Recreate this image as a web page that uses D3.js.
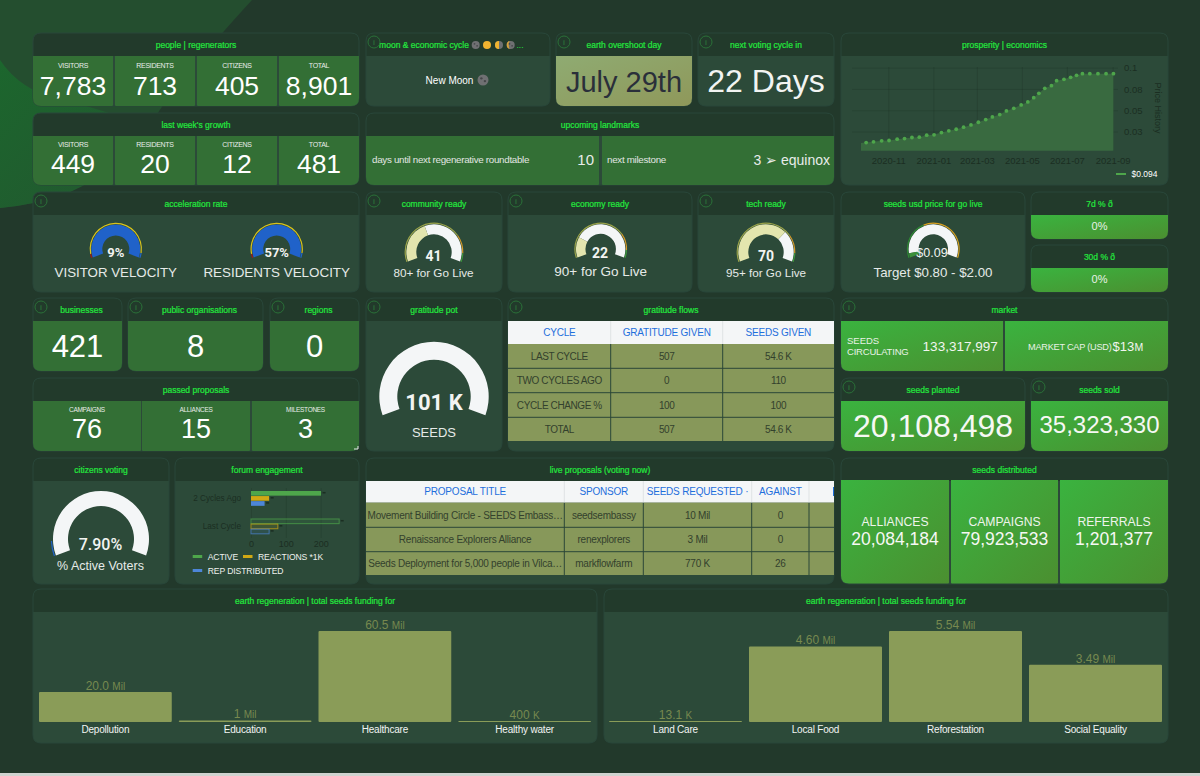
<!DOCTYPE html>
<html>
<head>
<meta charset="utf-8">
<title>Regen dashboard</title>
<script src="https://d3js.org/d3.v7.min.js"></script>
<style>
  html, body { margin: 0; padding: 0; background: #22392b; overflow: hidden; }
  svg { display: block; }
  text { font-family: "Liberation Sans", Arial, sans-serif; }
</style>
</head>
<body>
<div id="chart"></div>
<script>
// ---- values ----
var peopleLabels = ["VISITORS", "RESIDENTS", "CITIZENS", "TOTAL"];
var peopleValues = ["7,783", "713", "405", "8,901"];
var growthValues = ["449", "20", "12", "481"];
var passedLabels = ["CAMPAIGNS", "ALLIANCES", "MILESTONES"];
var passedValues = ["76", "15", "3"];
var distLabels = ["ALLIANCES", "CAMPAIGNS", "REFERRALS"];
var distValues = ["20,084,184", "79,923,533", "1,201,377"];

var priceDates = ["2020-09-25","2020-10-02","2020-10-12","2020-10-23","2020-11-02","2020-11-13","2020-11-23","2020-12-03","2020-12-13","2020-12-23",
  "2021-01-02","2021-01-12","2021-01-22","2021-02-01","2021-02-11","2021-02-21","2021-03-03","2021-03-13","2021-03-22","2021-04-01",
  "2021-04-10","2021-04-20","2021-04-30","2021-05-09","2021-05-17","2021-05-24","2021-06-01","2021-06-10","2021-06-17","2021-06-27",
  "2021-07-06","2021-07-14","2021-07-22","2021-08-01","2021-08-12","2021-08-23","2021-09-02"];
var priceValues = [0.0115,0.0121,0.0129,0.0141,0.0145,0.016,0.0168,0.018,0.0184,0.0207,
  0.0211,0.0238,0.0258,0.0277,0.0301,0.0328,0.0359,0.0391,0.0422,0.0449,
  0.0492,0.0523,0.0563,0.0598,0.0648,0.0699,0.0758,0.0789,0.0848,0.0863,
  0.0887,0.091,0.093,0.093,0.093,0.093,0.093];
var priceTicks = [0.025, 0.05, 0.075, 0.1];
var priceTickLabels = ["0.03", "0.05", "0.08", "0.1"];
var priceDateTicks = ["2020-11-01","2021-01-01","2021-03-01","2021-05-01","2021-07-01","2021-09-01"];

var forumCycles = ["2 Cycles Ago", "Last Cycle"];
var forumSeries = ["ACTIVE", "REACTIONS *1K", "REP DISTRIBUTED"];
var forumActive = [201, 253];
var forumReactions = [52, 77];
var forumRep = [39, 52];
var forumTicks = [0, 100, 200];

var flowHeaders = ["CYCLE", "GRATITUDE GIVEN", "SEEDS GIVEN"];
var flowCycles = ["LAST CYCLE", "TWO CYCLES AGO", "CYCLE CHANGE %", "TOTAL"];
var flowGratitude = ["507", "0", "100", "507"];
var flowSeeds = ["54.6 K", "110", "100", "54.6 K"];

var liveHeaders = ["PROPOSAL TITLE", "SPONSOR", "SEEDS REQUESTED ·", "AGAINST"];
var liveTitles = ["Movement Building Circle - SEEDS Embass…", "Renaissance Explorers Alliance", "Seeds Deployment for 5,000 people in Vilca…"];
var liveSponsors = ["seedsembassy", "renexplorers", "markflowfarm"];
var liveRequested = ["10 Mil", "3 Mil", "770 K"];
var liveAgainst = ["0", "0", "26"];

var regenCatsA = ["Depollution", "Education", "Healthcare", "Healthy water"];
var regenValsA = [20.0, 1, 60.5, 0.4];
var regenNumA = ["20.0", "1", "60.5", "400"];
var regenUnitA = ["Mil", "Mil", "Mil", "K"];
var regenCatsB = ["Land Care", "Local Food", "Reforestation", "Social Equality"];
var regenValsB = [0.0131, 4.60, 5.54, 3.49];
var regenNumB = ["13.1", "4.60", "5.54", "3.49"];
var regenUnitB = ["K", "Mil", "Mil", "Mil"];

// ---- colours ----
var titleGreen = "#22e83e", bodyCol = "#2c4a39", headCol = "#223a2b", cellCol = "#336f35",
    olive = "#87985a", white = "#f4f6f7", blueText = "#1f6fdc", darkText = "#1b2e22", softWhite = "#e8ecea";

var svg = d3.select("#chart").append("svg").attr("width", 1200).attr("height", 776);
var defs = svg.append("defs");

function gradient(id, c1, c2) {
  var g = defs.append("linearGradient").attr("id", id)
    .attr("x1", 0).attr("y1", 0).attr("x2", 1).attr("y2", 1);
  g.append("stop").attr("offset", "0%").attr("stop-color", c1);
  g.append("stop").attr("offset", "100%").attr("stop-color", c2);
}
gradient("greenGrad", "#3ab33f", "#4b8f30");
gradient("oliveGrad", "#8fab72", "#8f985a");
gradient("swoosh2", "#1c662d", "#235630");

// background
svg.append("rect").attr("width", 1200).attr("height", 776).attr("fill", "#22392b");
svg.append("path").attr("d", "M0,0 L252,0 Q215,40 170,95 Q125,165 70,192 Q35,205 0,208 Z").attr("fill", "#244e2f");
svg.append("path").attr("d", "M0,60 Q20,90 60,100 Q110,110 150,130 Q110,175 70,192 Q35,205 0,208 Z").attr("fill", "url(#swoosh2)");
svg.append("rect").attr("y", 773).attr("width", 1200).attr("height", 3).attr("fill", "#cfd3cf");

// rounded rect with its own radius per corner
function rr(x, y, w, h, tl, tr, br, bl) {
  return "M" + (x + tl) + "," + y + "H" + (x + w - tr) + "Q" + (x + w) + "," + y + " " + (x + w) + "," + (y + tr) +
    "V" + (y + h - br) + "Q" + (x + w) + "," + (y + h) + " " + (x + w - br) + "," + (y + h) +
    "H" + (x + bl) + "Q" + x + "," + (y + h) + " " + x + "," + (y + h - bl) +
    "V" + (y + tl) + "Q" + x + "," + y + " " + (x + tl) + "," + y + "Z";
}

function txt(x, y, s, size, fill, o) {
  o = o || {};
  return svg.append("text").attr("x", x).attr("y", y).text(s)
    .attr("font-size", size).attr("fill", fill)
    .attr("text-anchor", o.anchor || "middle")
    .attr("font-weight", o.weight || null)
    .style("font-family", o.family || null)
    .style("letter-spacing", o.ls || null);
}

var headH = 23, R = 8;

function panel(x, y, w, h, title, info, titleDx) {
  svg.append("path").attr("d", rr(x, y, w, h, R, R, R, R)).attr("fill", bodyCol);
  svg.append("path").attr("d", rr(x, y, w, headH, R, R, 0, 0)).attr("fill", headCol);
  svg.append("path").attr("d", rr(x, y, w, h, R, R, R, R)).attr("fill", "none").attr("stroke", "#29473a").attr("stroke-width", 1);
  txt(x + w / 2 + (titleDx || 0), y + 15, title, 8.5, titleGreen).attr("stroke", titleGreen).attr("stroke-width", 0.2);
  if (info) {
    svg.append("circle").attr("cx", x + 8).attr("cy", y + 9).attr("r", 6)
      .attr("fill", "none").attr("stroke", "#2a7038").attr("stroke-width", 1);
    txt(x + 8, y + 12, "i", 7, "#2a7038", { weight: "bold" });
  }
}

// a block of cells filling the bottom of a panel
function cell(x, y, w, h, fill, bl, br) {
  svg.append("path").attr("d", rr(x, y, w, h, 0, 0, br ? R : 1, bl ? R : 1)).attr("fill", fill);
}

function statRow(xs, y, h, labels, values, labelY, valueY, size, labelSize) {
  xs.forEach(function(c, i) {
    cell(c[0], y, c[1] - c[0], h, cellCol, i === 0, i === xs.length - 1);
    var mid = (c[0] + c[1]) / 2;
    txt(mid, labelY, labels[i], labelSize, softWhite, { ls: "-0.3px" });
    txt(mid, valueY, values[i], size, "#ffffff");
  });
}

// ---- top left stats ----
var fourCols = [[33, 113], [115, 195], [197, 277], [279, 359]];
panel(33, 33, 326, 73, "people | regenerators");
statRow(fourCols, 56, 50, peopleLabels, peopleValues, 67.5, 94.5, 26.5, 7);
panel(33, 113, 326, 72, "last week's growth");
statRow(fourCols, 136, 49, peopleLabels, growthValues, 147, 172.5, 26.5, 7);

// ---- moon, overshoot, voting ----
function moon(cx, cy, r, kind) {
  svg.append("circle").attr("cx", cx).attr("cy", cy).attr("r", r)
    .attr("fill", kind === "full" ? "#f0b330" : "#6f7072");
  if (kind === "half") {
    svg.append("path").attr("d", "M" + cx + "," + (cy - r) + "A" + r + "," + r + " 0 0 0 " + cx + "," + (cy + r) + "Z").attr("fill", "#f0b330");
  }
  if (kind === "wane") {
    svg.append("path").attr("d", "M" + cx + "," + (cy - r) + "A" + r + "," + r + " 0 0 0 " + cx + "," + (cy + r) + "A" + (r * 0.5) + "," + r + " 0 0 1 " + cx + "," + (cy - r) + "Z").attr("fill", "#d8a23a");
  }
  if (kind === "new" || kind === "wane") {
    svg.append("circle").attr("cx", cx - r * 0.3).attr("cy", cy - r * 0.3).attr("r", r * 0.22).attr("fill", "#46474a");
    svg.append("circle").attr("cx", cx + r * 0.35).attr("cy", cy + r * 0.2).attr("r", r * 0.22).attr("fill", "#46474a");
  }
}
panel(366, 33, 184, 73, "moon & economic cycle", true, -34);
moon(475.7, 45, 4, "new"); moon(487, 45, 4, "full"); moon(499, 45, 4, "half"); moon(510.7, 45, 4, "wane");
txt(520, 48, "...", 8.5, titleGreen, { anchor: "middle" });
txt(449.5, 84, "New Moon", 10, "#ffffff");
moon(483, 80, 5.5, "new");

panel(556, 33, 136, 73, "earth overshoot day", true);
svg.append("path").attr("d", rr(556, 56, 136, 50, 0, 0, R, R)).attr("fill", "url(#oliveGrad)");
txt(624, 92, "July 29th", 29, "#2a2f3a");
panel(698, 33, 136, 73, "next voting cycle in", true);
txt(766, 92, "22 Days", 32, "#f2f4f2");

// ---- landmarks ----
panel(366, 113, 468, 72, "upcoming landmarks");
cell(366, 136, 233, 49, cellCol, true, false);
cell(602, 136, 232, 49, cellCol, false, true);
txt(372, 163, "days until next regenerative roundtable", 9.8, "#e2e6e2", { anchor: "start", ls: "-0.3px" });
txt(594, 165, "10", 15, "#e8ecea", { anchor: "end" });
txt(607, 163, "next milestone", 9.8, "#e2e6e2", { anchor: "start", ls: "-0.3px" });
txt(830, 165, "3 ➢ equinox", 14, "#e8ecea", { anchor: "end" });

// ---- price history ----
panel(841, 33, 327, 152, "prosperity | economics");
var parseDay = d3.utcParse("%Y-%m-%d");
var priceX = d3.scaleUtc().domain([parseDay("2020-11-01"), parseDay("2021-09-01")]).range([888.3, 1112.7]);
var priceY = d3.scaleLinear().domain([0.0025, 0.1]).range([150.7, 67.7]);
var pricePts = priceDates.map(function(d, i) { return { date: parseDay(d), value: priceValues[i] }; });

var xAxisG = svg.append("g").attr("transform", "translate(0,151)")
  .call(d3.axisBottom(priceX).tickValues(priceDateTicks.map(parseDay)).tickFormat(d3.utcFormat("%Y-%m")).tickSize(-84).tickPadding(6));
var yAxisG = svg.append("g").attr("transform", "translate(1118,0)")
  .call(d3.axisRight(priceY).tickValues(priceTicks).tickFormat(function(d, i) { return priceTickLabels[i]; }).tickSize(-266).tickPadding(6));
[xAxisG, yAxisG].forEach(function(g) {
  g.selectAll(".domain").remove();
  g.selectAll("line").attr("stroke", "#1d3024").attr("stroke-opacity", 0.25);
  g.selectAll("text").attr("fill", darkText).attr("font-size", 9.5);
});
svg.append("path").datum(pricePts).attr("fill", "#396a40")
  .attr("d", d3.area().x(function(d) { return priceX(d.date); }).y0(150.7).y1(function(d) { return priceY(d.value); }));
svg.selectAll(".pricedot").data(pricePts.slice(1)).enter().append("circle").attr("class", "pricedot")
  .attr("cx", function(d) { return priceX(d.date); })
  .attr("cy", function(d) { return priceY(d.value); })
  .attr("r", 1.9).attr("fill", "#4ea64b");
txt(0, 0, "Price History", 9, darkText).attr("transform", "translate(1155,108) rotate(90)");
svg.append("line").attr("x1", 1116).attr("x2", 1126).attr("y1", 174).attr("y2", 174).attr("stroke", "#4ea64b").attr("stroke-width", 2);
txt(1131.5, 177, "$0.094", 8.5, "#ffffff", { anchor: "start" });

// ---- gauges ----
var gaugeAngle = d3.scaleLinear().domain([0, 1]).range([-110 * Math.PI / 180, 110 * Math.PI / 180]);
function gauge(cx, cy, r, thick, value, max, fill, rest, ring, ringGap) {
  var g = svg.append("g").attr("transform", "translate(" + cx + "," + cy + ")");
  var frac = Math.min(1, value / max);
  var arc = d3.arc().innerRadius(r - thick).outerRadius(r);
  if (frac < 1) g.append("path").attr("d", arc({ startAngle: gaugeAngle(frac), endAngle: gaugeAngle(1) })).attr("fill", rest);
  g.append("path").attr("d", arc({ startAngle: gaugeAngle(0), endAngle: gaugeAngle(frac) })).attr("fill", fill);
  var ringArc = d3.arc().innerRadius(r + ringGap).outerRadius(r + ringGap + 1.2);
  ring.forEach(function(s) {
    g.append("path").attr("d", ringArc({ startAngle: gaugeAngle(s[0]), endAngle: gaugeAngle(s[1]) })).attr("fill", s[2]);
  });
}

panel(33, 192, 326, 100, "acceleration rate", true);
var velocityRing = [[0, 0.04, "#a01818"], [0.04, 0.95, "#d8c21c"], [0.95, 1, "#2066c8"]];
gauge(115.8, 249, 24.5, 11, 9, 9, "#2062c9", "#f4f6f7", velocityRing, 0.5);
txt(115.8, 257, "9%", 13, "#f2f4f2", { weight: "bold", family: "Roboto" });
txt(115.8, 277, "VISITOR VELOCITY", 13.3, "#e6eae8");
gauge(276.7, 249, 24.5, 11, 57, 57, "#2062c9", "#f4f6f7", velocityRing, 0.5);
txt(276.7, 257, "57%", 13, "#f2f4f2", { weight: "bold", family: "Roboto" });
txt(276.7, 277, "RESIDENTS VELOCITY", 13.4, "#e6eae8");

var readyRing = [[0, 0.75, "#9aa34a"], [0.75, 0.92, "#d59a2a"], [0.92, 1, "#3d9a3d"]];
panel(366, 192, 136, 100, "community ready", true);
gauge(434, 252, 27.7, 10, 41, 100, "#e3e5ae", white, readyRing, 0.5);
txt(433.5, 261, "41", 14, "#f2f4f2", { weight: "bold", family: "Roboto" });
txt(433.5, 277, "80+ for Go Live", 11.7, "#e6eae8");

panel(508, 192, 184, 100, "economy ready", true);
gauge(600.7, 249, 24.7, 9.5, 22, 100, "#e3e5ae", white, readyRing, 0.5);
txt(600, 258, "22", 14, "#f2f4f2", { weight: "bold", family: "Roboto" });
txt(600.7, 276, "90+ for Go Live", 13.5, "#e6eae8");

panel(698, 192, 136, 100, "tech ready", true);
gauge(766, 252, 27.7, 10, 70, 100, "#e3e5ae", white, readyRing, 0.5);
txt(766, 261, "70", 14, "#f2f4f2", { weight: "bold", family: "Roboto" });
txt(766, 277, "95+ for Go Live", 11.7, "#e6eae8");

panel(841, 192, 184, 100, "seeds usd price for go live");
gauge(933.3, 249, 24.7, 10, 0.09, 2, "#3a8f3a", white, [[0, 0.4, "#2f8a34"], [0.4, 1, "#d8a020"]], 0.5);
txt(932, 257, "$0.09", 12.5, "#f2f4f2");
txt(933, 276.5, "Target $0.80 - $2.00", 13.3, "#e6eae8");

function pctPanel(y, title) {
  panel(1031, y, 137, 47, title);
  svg.append("path").attr("d", rr(1031, y + 23, 137, 24, 0, 0, R, R)).attr("fill", "url(#greenGrad)");
  txt(1099.5, y + 38, "0%", 11, "#e8f2e6");
}
pctPanel(192, "7d % ð");
pctPanel(245, "30d % ð");

// ---- businesses row ----
function bigPanel(x, w, title, value) {
  panel(x, 298, w, 73, title, true, 4);
  svg.append("path").attr("d", rr(x, 321, w, 50, 0, 0, R, R)).attr("fill", cellCol);
  txt(x + w / 2, 356.7, value, 31, "#ffffff");
}
bigPanel(33, 89, "businesses", "421");
bigPanel(128, 135, "public organisations", "8");
bigPanel(270, 89, "regions", "0");

panel(33, 378, 326, 73, "passed proposals");
statRow([[33, 141], [142, 250], [252, 359]], 401, 50, passedLabels, passedValues, 411.5, 437.7, 27, 6.5);
svg.append("path").attr("d", "M358,446V449H354").attr("fill", "none").attr("stroke", "#e8ecea").attr("stroke-width", 1);

// ---- gratitude pot ----
panel(366, 298, 136, 153, "gratitude pot", true);
gauge(434, 396.5, 54.7, 18, 101, 101, white, white, [], 0.5);
txt(434, 410, "101 K", 22, "#f2f4f2", { weight: "bold", family: "Roboto" });
txt(434, 436.7, "SEEDS", 13, "#e6eae8");

// ---- tables ----
function table(x0, x1, colEdges, yEdges, headers, columns, fontSize, headerSize, ls) {
  var rows = columns[0].length;
  svg.append("rect").attr("x", x0).attr("y", yEdges[0]).attr("width", x1 - x0).attr("height", yEdges[1] - yEdges[0]).attr("fill", white);
  svg.append("rect").attr("x", x0).attr("y", yEdges[1]).attr("width", x1 - x0).attr("height", yEdges[rows + 1] - yEdges[1]).attr("fill", olive);
  colEdges.forEach(function(e) {
    svg.append("line").attr("x1", e).attr("x2", e).attr("y1", yEdges[0]).attr("y2", yEdges[1]).attr("stroke", "#dfe3e4");
    svg.append("line").attr("x1", e).attr("x2", e).attr("y1", yEdges[1]).attr("y2", yEdges[rows + 1]).attr("stroke", "#2b4738").attr("stroke-width", 1);
  });
  for (var r = 2; r <= rows; r++) {
    svg.append("line").attr("x1", x0).attr("x2", x1).attr("y1", yEdges[r]).attr("y2", yEdges[r]).attr("stroke", "#2b4738").attr("stroke-width", 1);
  }
  var all = [x0].concat(colEdges).concat([x1]);
  headers.forEach(function(h, c) {
    txt((all[c] + all[c + 1]) / 2, (yEdges[0] + yEdges[1]) / 2 + 3.5, h, headerSize, blueText, { ls: "-0.2px" });
    columns[c].forEach(function(v, i) {
      txt((all[c] + all[c + 1]) / 2, (yEdges[i + 1] + yEdges[i + 2]) / 2 + 3.5, v, fontSize, "#33412d", { ls: ls });
    });
  });
}

panel(508, 298, 326, 153, "gratitude flows", true);
table(508, 834, [610.7, 722.7], [321, 344, 368.3, 392.7, 417.3, 441], flowHeaders, [flowCycles, flowGratitude, flowSeeds], 10, 10, "-0.4px");

panel(366, 458, 468, 126, "live proposals (voting now)");
table(366, 834, [564.3, 643.3, 751.7, 809], [481, 502.7, 527.3, 551.7, 575], liveHeaders.concat([""]),
  [liveTitles, liveSponsors, liveRequested, liveAgainst, ["", "", ""]], 10, 10, "-0.25px");
svg.append("rect").attr("x", 833).attr("y", 487).attr("width", 1).attr("height", 9).attr("fill", blueText);

// ---- market ----
panel(841, 298, 327, 73, "market", true);
svg.append("path").attr("d", rr(841, 321, 162, 50, 0, 0, 1, R)).attr("fill", "url(#greenGrad)");
svg.append("path").attr("d", rr(1005, 321, 163, 50, 0, 0, R, 1)).attr("fill", "url(#greenGrad)");
txt(847, 344, "SEEDS", 9.5, "#e8f2e6", { anchor: "start" });
txt(847, 355, "CIRCULATING", 9.5, "#e8f2e6", { anchor: "start", ls: "-0.2px" });
txt(997.7, 350.7, "133,317,997", 13.5, "#f2f6f0", { anchor: "end" });
txt(1028, 349.5, "MARKET CAP (USD)", 9.2, "#e8f2e6", { anchor: "start", ls: "-0.25px" });
txt(1112.5, 350.7, "$13", 13, "#f2f6f0", { anchor: "start" });
txt(1134.5, 350.7, "M", 10.5, "#f2f6f0", { anchor: "start" });

function greenBig(x, w, title, value, y, size) {
  panel(x, 378, w, 73, title, true);
  svg.append("path").attr("d", rr(x, 401, w, 50, 0, 0, R, R)).attr("fill", "url(#greenGrad)");
  txt(x + w / 2, y, value, size, "#f6f8f4");
}
greenBig(841, 184, "seeds planted", "20,108,498", 436.7, 32);
greenBig(1031, 137, "seeds sold", "35,323,330", 433, 24);

panel(841, 458, 327, 126, "seeds distributed");
[[841, 949], [951, 1058], [1060, 1168]].forEach(function(c, i) {
  svg.append("path").attr("d", rr(c[0], 480, c[1] - c[0], 103.5, 0, 0, i === 2 ? R : 1, i === 0 ? R : 1)).attr("fill", "url(#greenGrad)");
  var mid = (c[0] + c[1]) / 2;
  txt(mid, 525.7, distLabels[i], 12.2, "#eef4ec");
  txt(mid, 545, distValues[i], 17.5, "#f6f8f4");
});

// ---- citizens voting ----
panel(33, 458, 136, 126, "citizens voting");
gauge(101, 539, 48, 15, 7.9, 7.9, white, white, [[0, 0.08, "#2062c9"]], 1);
txt(100.5, 550, "7.90%", 16, "#f2f4f2", { weight: "500", family: "Roboto" });
txt(100.5, 570, "% Active Voters", 12.5, "#e6eae8");

// ---- forum engagement ----
panel(175, 458, 184, 126, "forum engagement");
var forumX = d3.scaleLinear().domain([0, 200]).range([251, 320.7]);
var forumY = d3.scaleBand().domain(forumCycles).range([484.4, 540.4]).paddingInner(0.47).paddingOuter(0.235);
var forumSub = d3.scaleBand().domain(forumSeries).range([0, forumY.bandwidth()]).paddingInner(0.08);
var forumCols = ["#4ea64b", "#d0a814", "#4d86d8"];
var forumAxis = svg.append("g").attr("transform", "translate(0,538)")
  .call(d3.axisBottom(forumX).tickValues(forumTicks).tickSize(-50).tickPadding(3));
forumAxis.selectAll(".domain").remove();
forumAxis.selectAll("line").attr("stroke", "#1d3024").attr("stroke-opacity", 0.25);
forumAxis.selectAll("text").attr("fill", darkText).attr("font-size", 9);
[forumActive, forumReactions, forumRep].forEach(function(vals, s) {
  svg.selectAll(".fb" + s).data(vals).enter().append("rect").attr("class", "fb" + s)
    .attr("x", forumX(0))
    .attr("y", function(d, i) { return forumY(forumCycles[i]) + forumSub(forumSeries[s]); })
    .attr("width", function(d) { return forumX(d) - forumX(0); })
    .attr("height", forumSub.bandwidth())
    .attr("fill", function(d, i) { return i === 0 ? forumCols[s] : d3.color(forumCols[s]).copy({ opacity: 0.12 }); })
    .attr("stroke", function(d, i) { return i === 0 ? null : forumCols[s]; })
    .attr("stroke-opacity", 0.7);
  svg.selectAll(".fm" + s).data(vals).enter().append("rect").attr("class", "fm" + s)
    .attr("x", function(d) { return forumX(d) + 1.5; })
    .attr("y", function(d, i) { return forumY(forumCycles[i]) + forumSub(forumSeries[s]) + 1; })
    .attr("width", 3).attr("height", 1.5).attr("fill", "#1b2e22");
});
forumCycles.forEach(function(c) {
  txt(241, forumY(c) + forumY.bandwidth() / 2 + 3, c, 8.2, darkText, { anchor: "end" });
});
[[192.7, 559.5], [243, 559.5], [192.7, 573.5]].forEach(function(p, i) {
  svg.append("line").attr("x1", p[0]).attr("x2", p[0] + 9.5).attr("y1", p[1] - 3).attr("y2", p[1] - 3)
    .attr("stroke", forumCols[i]).attr("stroke-width", 3);
  txt(p[0] + 15, p[1], forumSeries[i], 8.6, "#eef1ee", { anchor: "start", ls: "-0.1px" });
});

// ---- earth regeneration bars ----
function regen(px, pw, x0, x1, cats, vals, nums, units) {
  panel(px, 589, pw, 154, "earth regeneration | total seeds funding for");
  var x = d3.scaleBand().domain(cats).range([x0, x1]).paddingInner(0.05);
  var y = d3.scaleLinear().domain([0, d3.max(vals)]).range([722, 631]);
  var g = svg.append("g");
  g.selectAll("rect").data(vals).enter().append("rect")
    .attr("x", function(d, i) { return x(cats[i]); })
    .attr("y", function(d) { return Math.min(y(d), 721); })
    .attr("width", x.bandwidth())
    .attr("height", function(d) { return Math.max(722 - y(d), 1); })
    .attr("rx", 1).attr("fill", "#8a9c58");
  cats.forEach(function(c, i) {
    var mid = x(c) + x.bandwidth() / 2;
    var t = txt(mid, Math.min(y(vals[i]), 721) - 2, nums[i] + " ", 12, "#77894f");
    t.append("tspan").attr("font-size", 10).text(units[i]);
    txt(mid, 733, c, 10, "#f2f4f2", { ls: "-0.2px" });
  });
}
regen(33, 564, 39, 591, regenCatsA, regenValsA, regenNumA, regenUnitA);
regen(604, 564, 609, 1162, regenCatsB, regenValsB, regenNumB, regenUnitB);
</script>
</body>
</html>
